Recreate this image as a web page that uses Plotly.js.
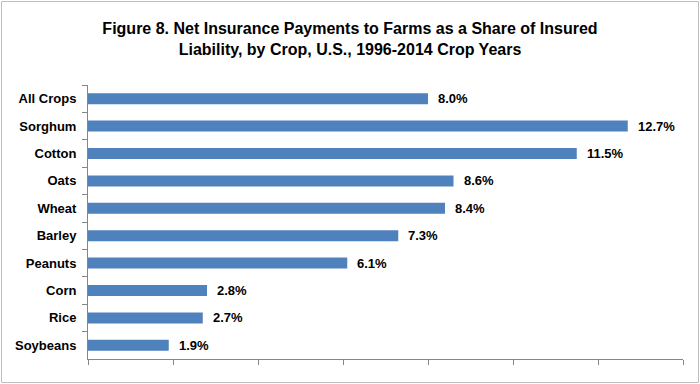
<!DOCTYPE html>
<html>
<head>
<meta charset="utf-8">
<script src="https://cdn.plot.ly/plotly-3.0.1.min.js"></script>
<style>
html,body{margin:0;padding:0;background:#fff;}
#chart{width:700px;height:384px;}
</style>
</head>
<body>
<div id="chart"></div>
<script>
const crops = ["All Crops","Sorghum","Cotton","Oats","Wheat","Barley","Peanuts","Corn","Rice","Soybeans"];
const shares = [8.0,12.7,11.5,8.6,8.4,7.3,6.1,2.8,2.7,1.9];
const shareLabels = shares.map(v => v.toFixed(1) + "%");
const titleText = "Figure 8. Net Insurance Payments to Farms as a Share of Insured<br>Liability, by Crop, U.S., 1996-2014 Crop Years";

const font = "Liberation Sans, Arial, sans-serif";
const W = 700, H = 384;
const M = {l: 88, r: 17, t: 85, b: 25};
const pw = W - M.l - M.r, ph = H - M.t - M.b;

const trace = {
  type: "bar",
  orientation: "h",
  x: shares,
  y: crops,
  marker: {color: "#4F81BD", line: {width: 0}},
  hoverinfo: "none"
};

const annotations = crops.map((c, i) => ({
  x: shares[i], y: c, xref: "x", yref: "y",
  text: shareLabels[i], showarrow: false,
  xanchor: "left", yanchor: "middle", xshift: 8,
  font: {family: font, size: 13, color: "#000", weight: "bold"}
}));

// outer chart frame (pixel positions converted to paper units)
const frame = {
  type: "rect", xref: "paper", yref: "paper", layer: "above",
  x0: (1.5 - M.l) / pw, x1: (698.5 - M.l) / pw,
  y0: (H - M.b - 382.5) / ph, y1: (H - M.b - 1.5) / ph,
  line: {color: "#bfbfbf", width: 1}, fillcolor: "rgba(0,0,0,0)"
};

const layout = {
  width: W, height: H,
  margin: M,
  paper_bgcolor: "#fff", plot_bgcolor: "#fff",
  showlegend: false,
  bargap: 0.6,
  title: {
    text: titleText,
    font: {family: font, size: 16, color: "#000", weight: "bold"},
    x: 0.5, xanchor: "center", xref: "container",
    y: 1 - 34/384, yanchor: "top", yref: "container",
    pad: {t: 0, b: 0, l: 0, r: 0}
  },
  xaxis: {
    range: [0, 14], dtick: 2, tick0: 0,
    showgrid: false, zeroline: false,
    showline: true, linecolor: "#868686", linewidth: 1,
    ticks: "outside", ticklen: 5, tickcolor: "#868686",
    showticklabels: false, fixedrange: true
  },
  yaxis: {
    type: "category",
    categoryorder: "array", categoryarray: crops,
    autorange: "reversed",
    showgrid: false, zeroline: false,
    showline: true, linecolor: "#868686", linewidth: 1,
    ticks: "outside", ticklen: 5, tickcolor: "#868686",
    tickson: "boundaries",
    ticklabelstandoff: 8,
    tickfont: {family: font, size: 13, color: "#000", weight: "bold"},
    fixedrange: true
  },
  shapes: [frame],
  annotations: annotations
};

Plotly.newPlot("chart", [trace], layout, {displayModeBar: false, staticPlot: true});
</script>
</body>
</html>
